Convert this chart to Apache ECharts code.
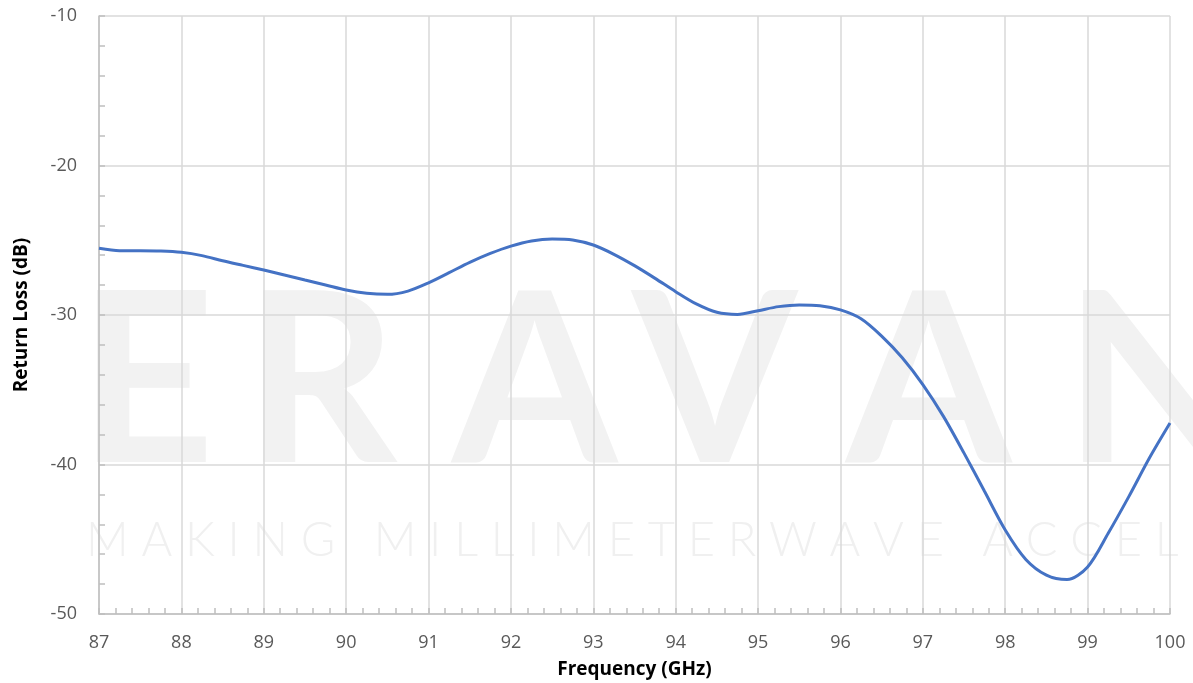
<!DOCTYPE html>
<html>
<head>
<meta charset="utf-8">
<title>Return Loss</title>
<script src="https://cdn.jsdelivr.net/npm/echarts@6/dist/echarts.min.js"></script>
<style>
  html, body { margin: 0; padding: 0; background: #fff; }
  #chart { width: 1193px; height: 683px; }
</style>
</head>
<body>
<div id="chart"></div>
<script>
// ---------------------------------------------------------------------------
// Data (every 0.25 GHz)
// ---------------------------------------------------------------------------
const freqGHz = [
  87, 87.25, 87.5, 87.75, 88, 88.25, 88.5, 88.75, 89, 89.25, 89.5, 89.75,
  90, 90.25, 90.5, 90.75, 91, 91.25, 91.5, 91.75, 92, 92.25, 92.5, 92.75,
  93, 93.25, 93.5, 93.75, 94, 94.25, 94.5, 94.75, 95, 95.25, 95.5, 95.75,
  96, 96.25, 96.5, 96.75, 97, 97.25, 97.5, 97.75, 98, 98.25, 98.5, 98.75,
  99, 99.25, 99.5, 99.75, 100,
];
const returnLossDb = [
  -25.54, -25.7, -25.7, -25.72, -25.81, -26.03, -26.37, -26.68, -26.99, -27.32, -27.66, -27.99,
  -28.33, -28.55, -28.62, -28.4, -27.85, -27.17, -26.48, -25.88, -25.39, -25.05, -24.92, -24.98,
  -25.32, -25.94, -26.7, -27.55, -28.44, -29.26, -29.82, -29.96, -29.71, -29.44, -29.33, -29.38,
  -29.66, -30.25, -31.41, -32.86, -34.65, -36.78, -39.24, -41.81, -44.38, -46.35, -47.4, -47.7,
  -46.85, -44.6, -42.15, -39.57, -37.23,
];

const xTicks = { min: 87, max: 100, step: 1 };
const yTicks = { min: -50, max: -10, step: 10 };

const xTitle = "Frequency (GHz)";
const yTitle = "Return Loss (dB)";

const watermarkWord = ["E", "R", "A", "V", "A", "N", "T"];
const watermarkTagline = "M A K I N G   M I L L I M E T E R W A V E   A C C E L E R A T I O N";

// ---------------------------------------------------------------------------
// Chart
// ---------------------------------------------------------------------------
const chartDom = document.getElementById("chart");
const myChart = echarts.init(chartDom, null, { renderer: "canvas" });

const FONT = "'Open Sans', 'Noto Sans', sans-serif";
const AXIS_GREY = "#bfbfbf";
const GRID_GREY = "#d9d9d9";
const WM_GREY = "#f2f2f2";

// watermark letters, spread across the plot
const letterX = [78, 244, 452, 632, 846, 1064, 1290];
const watermark = watermarkWord.map((ch, i) => ({
  type: "text",
  left: letterX[i],
  top: 266,
  z: -10,
  silent: true,
  style: {
    text: ch,
    fill: WM_GREY,
    font: "bold 238px Lato, 'Open Sans', sans-serif",
  },
}));
watermark.push({
  type: "text",
  left: 86,
  top: 517,
  z: -10,
  silent: true,
  style: {
    text: watermarkTagline,
    fill: "#f0f0f0",
    font: "300 47px Lato, 'Open Sans', sans-serif",
  },
});

const seriesData = freqGHz.map((f, i) => [f, returnLossDb[i]]);

const option = {
  backgroundColor: "#ffffff",
  animation: false,
  graphic: watermark,
  grid: {
    left: 99,
    right: 23,
    top: 16,
    bottom: 69,
    containLabel: false,
    outerBoundsMode: "none",
  },
  xAxis: {
    type: "value",
    min: xTicks.min,
    max: xTicks.max,
    interval: xTicks.step,
    name: xTitle,
    nameLocation: "middle",
    nameGap: 46,
    nameTextStyle: {
      color: "#000",
      fontFamily: FONT,
      fontWeight: "bold",
      fontSize: 19,
    },
    axisLine: { lineStyle: { color: AXIS_GREY, width: 1.5 } },
    axisTick: { show: true, inside: true, length: 6, lineStyle: { color: AXIS_GREY, width: 1.5 } },
    minorTick: { show: true, splitNumber: 5, length: 6, lineStyle: { color: AXIS_GREY, width: 1.5 } },
    splitLine: { show: true, lineStyle: { color: GRID_GREY, width: 1.5 } },
    axisLabel: {
      color: "#595959",
      fontFamily: FONT,
      fontSize: 18,
      margin: 20,
    },
  },
  yAxis: {
    type: "value",
    min: yTicks.min,
    max: yTicks.max,
    interval: yTicks.step,
    name: yTitle,
    nameLocation: "middle",
    nameGap: 68,
    nameRotate: 90,
    nameTextStyle: {
      color: "#000",
      fontFamily: FONT,
      fontWeight: "bold",
      fontSize: 19,
    },
    axisLine: { show: true, lineStyle: { color: AXIS_GREY, width: 1.5 } },
    axisTick: { show: true, inside: true, length: 6, lineStyle: { color: AXIS_GREY, width: 1.5 } },
    minorTick: { show: true, splitNumber: 5, length: 6, lineStyle: { color: AXIS_GREY, width: 1.5 } },
    splitLine: { show: true, lineStyle: { color: GRID_GREY, width: 1.5 } },
    axisLabel: {
      color: "#595959",
      fontFamily: FONT,
      fontSize: 18,
      margin: 22,
    },
  },
  series: [
    {
      type: "line",
      data: seriesData,
      smooth: 0.3,
      showSymbol: false,
      lineStyle: { color: "#4472c4", width: 3 },
      z: 5,
    },
  ],
};

myChart.setOption(option);

window.addEventListener("resize", () => {
  myChart.resize();
});
</script>
</body>
</html>
